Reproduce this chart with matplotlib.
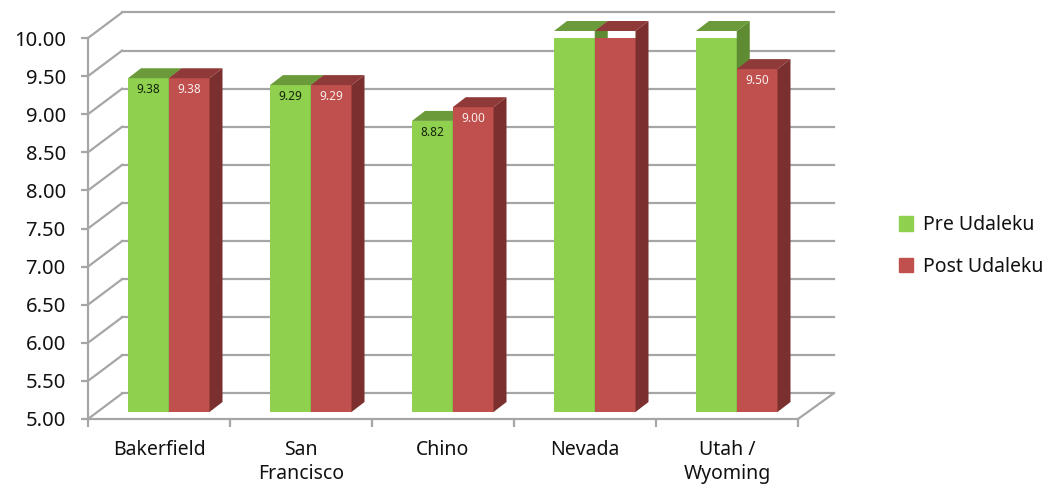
from matplotlib import pyplot as plt
from matplotlib.patches import Patch
import numpy as np

categories = ["Bakerfield", "San\nFrancisco", "Chino", "Nevada", "Utah /\nWyoming"]
pre_values = [9.38, 9.29, 8.82, 10.00, 10.00]
post_values = [9.38, 9.29, 9.00, 10.00, 9.50]
y_ticks = [5.0, 5.5, 6.0, 6.5, 7.0, 7.5, 8.0, 8.5, 9.0, 9.5, 10.0]

plt.rcParams["font.family"] = ["Noto Sans", "DejaVu Sans"]

GRID = "#a6a6a6"
TEXT = "#111111"
WALL_DX, WALL_DY = 0.25, 0.335     # depth of the chart box
BAR_DX, BAR_DY = 0.0915, 0.131     # depth of one bar
BAR_LIFT = 0.092                   # bars stand a bit behind the front edge
BAR_START, BAR_W = 0.2817, 0.287


def draw_bar(ax, x, value, colors, label_color):
    front, top, side = colors
    base = 5 + BAR_LIFT
    height = value - 5
    ax.bar(x, height, BAR_W, bottom=base, align="edge", color=front, zorder=3)

    y_top = base + height
    ax.fill([x, x + BAR_W, x + BAR_W + BAR_DX, x + BAR_DX],
            [y_top, y_top, y_top + BAR_DY, y_top + BAR_DY],
            color=top, lw=0, zorder=3, clip_on=False)
    ax.fill([x + BAR_W, x + BAR_W + BAR_DX, x + BAR_W + BAR_DX, x + BAR_W],
            [base, base + BAR_DY, y_top + BAR_DY, y_top],
            color=side, lw=0, zorder=3, clip_on=False)

    ax.annotate(f"{value:.2f}", (x + BAR_W / 2, y_top), xytext=(0, -8),
                textcoords="offset points", ha="center", va="center",
                fontsize=8.5, color=label_color, zorder=4)


fig = plt.figure(figsize=(10.44, 4.91), dpi=100)
ax = fig.add_axes([88 / 1044, (491 - 419) / 491, 710 / 1044, 381 / 491])
ax.set_xlim(0, len(categories))
ax.set_ylim(5, 10)

# back wall and the diagonals joining it to the front
x_end = len(categories)
for tick in y_ticks:
    ax.plot([WALL_DX * 0.96, x_end + WALL_DX], [tick + WALL_DY] * 2, color=GRID, lw=1.6,
            zorder=1, clip_on=False)
    ax.plot([0, WALL_DX * 0.96], [tick, tick + WALL_DY], color=GRID, lw=1.6,
            zorder=1, clip_on=False)
ax.plot([x_end, x_end + WALL_DX], [5, 5 + WALL_DY], color=GRID, lw=1.6, zorder=1, clip_on=False)

for i in range(len(categories)):
    draw_bar(ax, i + BAR_START, pre_values[i], ("#8fd14f", "#6b9a3a", "#5f8c33"), "#14230a")
    draw_bar(ax, i + BAR_START + BAR_W, post_values[i], ("#c0504d", "#8f3a38", "#7b2f2e"), "#fbeeee")

for name in ["top", "right"]:
    ax.spines[name].set_visible(False)
for name in ["left", "bottom"]:
    ax.spines[name].set_color(GRID)
    ax.spines[name].set_linewidth(1.6)

ax.set_yticks(y_ticks)
ax.set_yticklabels([f"{t:.2f}" for t in y_ticks], fontsize=14.5, color=TEXT)
ax.tick_params(axis="y", length=5, width=1.6, color=GRID, pad=11)

ax.set_xticks(np.arange(len(categories) + 1))
ax.set_xticklabels([])
ax.set_xticks(np.arange(len(categories)) + 0.5, minor=True)
ax.set_xticklabels(categories, minor=True, fontsize=14, color=TEXT, linespacing=1.25)
ax.tick_params(axis="x", which="major", length=6, width=1.6, color=GRID)
ax.tick_params(axis="x", which="minor", length=0, pad=15)

handles = [Patch(color="#8fd14f", label="Pre Udaleku"), Patch(color="#c0504d", label="Post Udaleku")]
fig.legend(handles=handles, loc="center left", bbox_to_anchor=(881 / 1044, (491 - 246) / 491),
           frameon=False, fontsize=14, handlelength=0.75, handleheight=0.75,
           handletextpad=0.5, labelspacing=1.1, labelcolor=TEXT)

fig.savefig("out.png", dpi=100)
